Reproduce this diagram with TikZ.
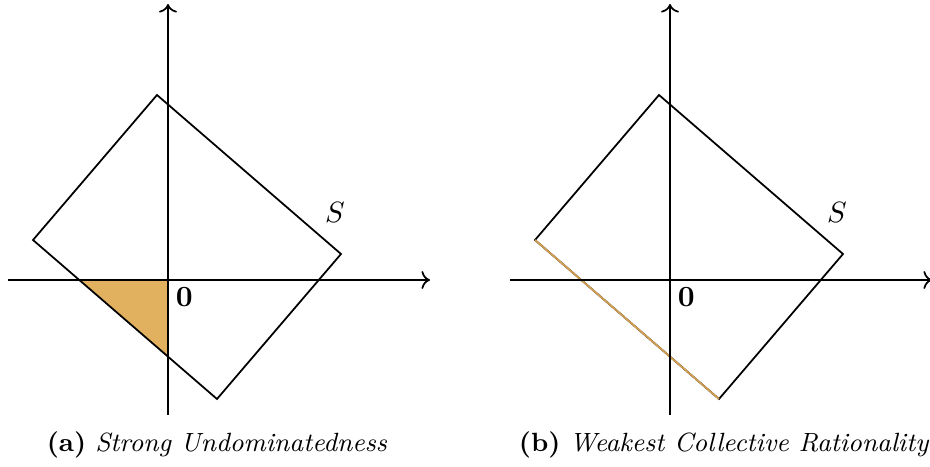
\documentclass[tikz,border=0pt]{standalone}
\usepackage{amsmath}
\usetikzlibrary{calc, positioning, arrows.meta}
\definecolor{undomfill}{RGB}{226,177,95}
\definecolor{weakline}{RGB}{212,160,82}

\begin{document}
\begin{tikzpicture}[x=0.012cm, y=0.012cm, line width=0.6pt]
\useasboundingbox (0,0) rectangle (930,466);

% (a) strong undominatedness
\begin{scope}[shift={(168,186)}]
\coordinate (Oa) at (0,0);
\coordinate (Ta) at (-11,185);
\coordinate (Ra) at (173,26);
\coordinate (Ba) at (49,-119);
\coordinate (La) at (-135,40);
\coordinate (Xa) at (262,0);
\coordinate (Ya) at (0,276);
% Shaded region below the origin
\fill[undomfill] (Oa) -- (intersection of La--Ba and Oa--Xa)
  -- (intersection of La--Ba and Oa--Ya) -- cycle;
% Draw the set S
\draw (Ta) -- (Ra) -- (Ba) -- (La) -- cycle;
% Axes
\draw[->] (-160,0) -- (Xa);
\draw[->] (0,-135) -- (Ya);
\node[below right, inner sep=1pt] (zeroa) at (4,-4) {$\mathbf{0}$};
\node (Sa) at (167,68) {$S$};
\end{scope}
\node[font=\small] (capa) at (217,21) {\textbf{(a)}~\textit{Strong Undominatedness}};

% (b) weakest collective rationality
\begin{scope}[shift={(670,186)}]
\coordinate (Ob) at (0,0);
\coordinate (Tb) at (-11,185);
\coordinate (Rb) at (173,26);
\coordinate (Bb) at (49,-119);
\coordinate (Lb) at (-135,40);
\coordinate (Xb) at (262,0);
\coordinate (Yb) at (0,276);
% Draw the set S
\draw (Tb) -- (Rb) -- (Bb) -- (Lb) -- cycle;
% Weak Pareto edge
\draw[weakline] (Lb) -- (Bb);
% Axes
\draw[->] (-160,0) -- (Xb);
\draw[->] (0,-135) -- (Yb);
\node[below right, inner sep=1pt] (zerob) at (4,-4) {$\mathbf{0}$};
\node (Sb) at (167,68) {$S$};
\end{scope}
\node[font=\small] (capb) at (724,21) {\textbf{(b)}~\textit{Weakest Collective Rationality}};
\end{tikzpicture}
\end{document}
